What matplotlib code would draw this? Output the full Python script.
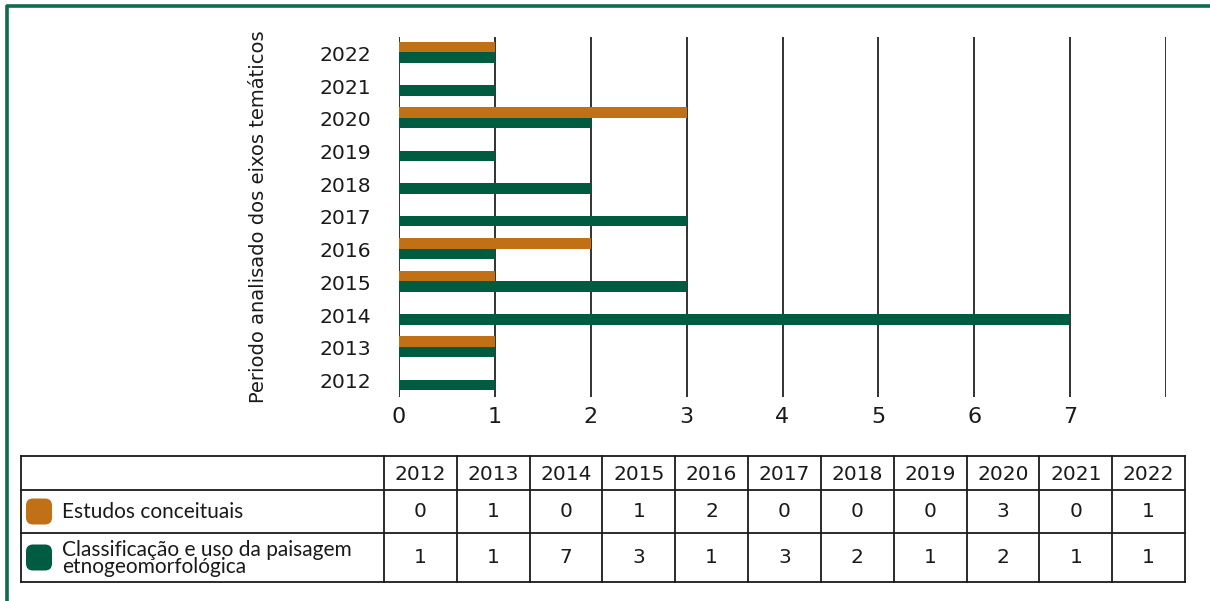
import matplotlib.pyplot as plt
from matplotlib.patches import FancyBboxPatch
import numpy as np

# -------------------------
# DATA
# -------------------------
years = ["2012", "2013", "2014", "2015", "2016", "2017",
         "2018", "2019", "2020", "2021", "2022"]
conceituais = [0, 1, 0, 1, 2, 0, 0, 0, 3, 0, 1]
classificacao = [1, 1, 7, 3, 1, 3, 2, 1, 2, 1, 1]
series_names = ["Estudos conceituais",
                "Classificação e uso da paisagem\netnogeomorfológica"]

ORANGE = "#C27016"
GREEN = "#005C40"
FRAME = "#0E6B4E"

W, H = 1210, 601
fig = plt.figure(figsize=(W / 100, H / 100), dpi=100)

# -------------------------
# BAR CHART
# -------------------------
ax = fig.add_axes([399 / W, 1 - 397 / H, (1166 - 399) / W, (397 - 37) / H])
y = np.arange(len(years))
bh = 0.32
ax.barh(y + 0.19, conceituais, height=bh, color=ORANGE, zorder=3)
ax.barh(y - 0.13, classificacao, height=bh, color=GREEN, zorder=3)

ax.set_xlim(0, 8)
ax.set_ylim(-0.5, len(years) - 0.5)
ax.set_xticks(range(9))
ax.set_xticklabels([str(i) for i in range(8)] + [""], fontsize=16)
ax.set_yticks(y)
ax.set_yticklabels(years, fontsize=14.7)
ax.tick_params(axis="both", length=0, colors="#1a1a1a")
ax.tick_params(axis="y", pad=20)
ax.tick_params(axis="x", pad=7)
ax.set_axisbelow(True)
ax.grid(axis="x", color="#222222", lw=1.3)
for s in ax.spines.values():
    s.set_visible(False)

fig.text(258 / W, 1 - 217 / H, "Periodo analisado dos eixos temáticos",
         rotation=90, ha="center", va="center", fontsize=14, color="#1a1a1a")

# -------------------------
# DATA TABLE (drawn by hand)
# -------------------------
ov = fig.add_axes([0, 0, 1, 1], zorder=-1)
ov.set_xlim(0, W)
ov.set_ylim(H, 0)
ov.axis("off")

# outer green frame
ov.plot([7, 7, W + 5], [H + 5, 6, 6], color=FRAME, lw=2.6,
        solid_capstyle="butt")

x_left, x_first = 21, 384
x_right = 1185
col_w = (x_right - x_first) / len(years)
rows_y = [456, 490, 533, 582]
lc = "#1a1a1a"

for ry in rows_y:
    ov.plot([x_left, x_right], [ry, ry], color=lc, lw=1.3)
ov.plot([x_left, x_left], [rows_y[0], rows_y[-1]], color=lc, lw=1.3)
for j in range(len(years) + 1):
    xx = x_first + j * col_w
    ov.plot([xx, xx], [rows_y[0], rows_y[-1]], color=lc, lw=1.3)

for j, yr in enumerate(years):
    cx = x_first + (j + 0.5) * col_w
    ov.text(cx, (rows_y[0] + rows_y[1]) / 2 + 1, yr, ha="center", va="center",
            fontsize=14.5, color=lc)
    ov.text(cx, (rows_y[1] + rows_y[2]) / 2, str(conceituais[j]),
            ha="center", va="center", fontsize=14.5, color=lc)
    ov.text(cx, (rows_y[2] + rows_y[3]) / 2, str(classificacao[j]),
            ha="center", va="center", fontsize=14.5, color=lc)

for k, (name, col) in enumerate(zip(series_names, [ORANGE, GREEN])):
    top, bot = rows_y[k + 1], rows_y[k + 2]
    cy = (top + bot) / 2
    sw = FancyBboxPatch((26, cy - 13), 26, 26,
                        boxstyle="round,pad=0,rounding_size=7",
                        fc=col, ec="none")
    ov.add_patch(sw)
    ov.text(62, cy + 1, name, ha="left", va="center", fontsize=15,
            family="Lato", color=lc, linespacing=0.78)

fig.savefig("out.png", dpi=100)
